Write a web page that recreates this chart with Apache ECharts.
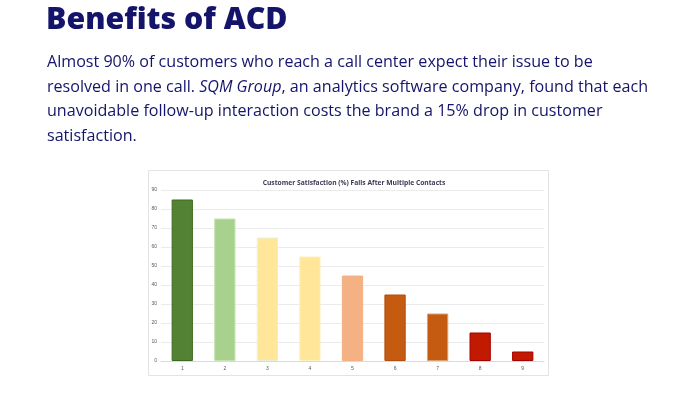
<!DOCTYPE html>
<html>
<head>
<meta charset="utf-8">
<script src="https://cdn.jsdelivr.net/npm/echarts@6/dist/echarts.min.js"></script>
<style>
html,body{margin:0;padding:0;background:#fff;}
#c{width:675px;height:400px;}
</style>
</head>
<body>
<div id="c"></div>
<script>
const heading = "Benefits of ACD";
const paragraphLines = [
  "Almost 90% of customers who reach a call center expect their issue to be",
  "resolved in one call. {i|SQM Group}, an analytics software company, found that each",
  "unavoidable follow-up interaction costs the brand a 15% drop in customer",
  "satisfaction."
];
const chartTitle = "Customer Satisfaction (%) Falls After Multiple Contacts";
const categories = ["1","2","3","4","5","6","7","8","9"];
const values = [85,75,65,55,45,35,25,15,5];
const barColors = ["#548235","#a9d18e","#ffe699","#ffe699","#f4b183","#c55a11","#c55a11","#c11a00","#c11a00"];
const barBorders = ["#3c6b1f","#c4e3b0","#e6f2d8","#fff0c0","#f4b183","#b44e0c","#d9a070","#a50000","#a50000"];

const chart = echarts.init(document.getElementById('c'));
const navy = "#14146b";
chart.setOption({
  animation:false,
  graphic:[
    {type:'rect', z:-1, shape:{x:148.5,y:170.5,width:400,height:205}, style:{fill:'#fff',stroke:'#e3e3e3',lineWidth:1}},
    {type:'text', left:46, top:5, style:{text:heading, font:'800 30.3px "Open Sans"', fill:navy}},
    {type:'text', left:47, top:50, style:{
      text: paragraphLines.join("\n"),
      font:'16.1px "Open Sans"', fill:navy, lineHeight:24.7,
      rich:{i:{fontStyle:'italic', fontSize:16.1, fontFamily:'Open Sans', fill:navy, lineHeight:24.7}}
    }}
  ],
  title:{text:chartTitle, left:349, top:175, textAlign:'center',
    textStyle:{fontSize:6.7, fontWeight:'bold', color:'#3a3a55', fontFamily:'Open Sans'}},
  grid:{left:161, right:131, top:190, bottom:39, containLabel:false},
  xAxis:{type:'category', data:categories,
    axisLine:{lineStyle:{color:'#d9d9d9'}}, axisTick:{show:false},
    axisLabel:{fontSize:5, color:'#595959', margin:5}},
  yAxis:{type:'value', min:0, max:90, interval:10,
    axisLine:{show:false}, axisTick:{show:false},
    splitLine:{lineStyle:{color:'#ebebeb'}},
    axisLabel:{fontSize:5, color:'#595959', margin:4}},
  series:[{type:'bar', barWidth:'50%',
    data: values.map((v,i)=>({value:v, itemStyle:{color:barColors[i], borderColor:barBorders[i], borderWidth:1}}))
  }]
});
</script>
</body>
</html>
